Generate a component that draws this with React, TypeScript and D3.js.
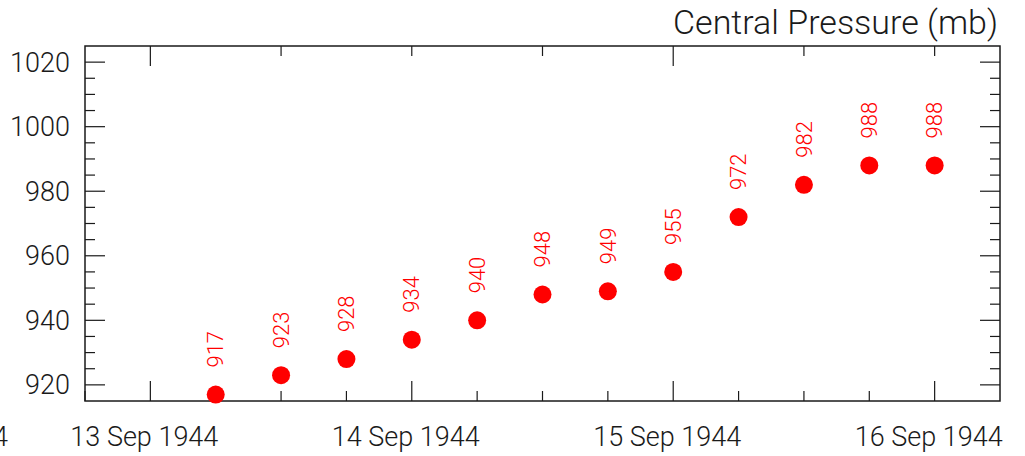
import { useEffect, useRef } from "react";
import * as d3 from "d3";

// observation times (UTC) and central pressure readings
const obsTimes = [
  "1944-09-13T06:00Z",
  "1944-09-13T12:00Z",
  "1944-09-13T18:00Z",
  "1944-09-14T00:00Z",
  "1944-09-14T06:00Z",
  "1944-09-14T12:00Z",
  "1944-09-14T18:00Z",
  "1944-09-15T00:00Z",
  "1944-09-15T06:00Z",
  "1944-09-15T12:00Z",
  "1944-09-15T18:00Z",
  "1944-09-16T00:00Z",
];
const pressures = [917, 923, 928, 934, 940, 948, 949, 955, 972, 982, 988, 988];

const timeDomain = ["1944-09-12T18:00Z", "1944-09-16T06:00Z"];
const pressureDomain = [915, 1025];
const dayTicks = ["1944-09-13T00:00Z", "1944-09-14T00:00Z", "1944-09-15T00:00Z", "1944-09-16T00:00Z"];
const dayLabels = ["13 Sep 1944", "14 Sep 1944", "15 Sep 1944", "16 Sep 1944"];
const cutLabel = "12 Sep 1944";
const title = "Central Pressure (mb)";

const FONT = "Roboto, 'Liberation Sans', Helvetica, Arial, sans-serif";

const App = () => {
  const ref = useRef(null);

  useEffect(() => {
    const width = 1025;
    const height = 456;
    const m = { left: 85, right: 25, top: 46, bottom: 55 };

    const svg = d3.select(ref.current);
    svg.selectAll("*").remove();

    const x = d3
      .scaleUtc()
      .domain(timeDomain.map((d) => new Date(d)))
      .range([m.left, width - m.right]);
    const y = d3
      .scaleLinear()
      .domain(pressureDomain)
      .range([height - m.bottom, m.top]);

    const [x0, x1] = x.range();
    const [y0, y1] = y.range();
    const ink = "#1a1a1a";

    const days = dayTicks.map((d) => new Date(d));
    const sixHours = d3.utcHour.every(6).range(x.domain()[0], x.domain()[1]);
    const twelveHours = d3.utcHour.every(12).range(x.domain()[0], x.domain()[1]);
    const twoDays = days.filter((d, i) => i % 2 === 0);

    const yMajor = d3.range(920, 1021, 20);
    const yMinor = d3.range(920, 1021, 5);

    const g = svg.append("g").attr("stroke", ink).attr("stroke-width", 1.2);

    // bottom ticks: 6h minor, daily major
    g.selectAll(".bmin")
      .data(sixHours)
      .join("line")
      .attr("x1", (d) => x(d))
      .attr("x2", (d) => x(d))
      .attr("y1", y0)
      .attr("y2", (d) => y0 - (days.some((t) => +t === +d) ? 20 : 10));

    // top ticks: 12h minor, two-day major
    g.selectAll(".tmin")
      .data(twelveHours)
      .join("line")
      .attr("x1", (d) => x(d))
      .attr("x2", (d) => x(d))
      .attr("y1", y1)
      .attr("y2", (d) => y1 + (twoDays.some((t) => +t === +d) ? 20 : 10));

    // left and right ticks
    [x0, x1].forEach((edge, side) => {
      const dir = side === 0 ? 1 : -1;
      g.append("g")
        .selectAll("line")
        .data(yMinor)
        .join("line")
        .attr("x1", edge)
        .attr("x2", (d) => edge + dir * (yMajor.includes(d) ? 20 : 10))
        .attr("y1", (d) => y(d))
        .attr("y2", (d) => y(d));
    });

    svg
      .append("rect")
      .attr("x", x0)
      .attr("y", y1)
      .attr("width", x1 - x0)
      .attr("height", y0 - y1)
      .attr("fill", "none")
      .attr("stroke", ink)
      .attr("stroke-width", 1.5);

    const label = (sel, size) =>
      sel
        .style("font-family", FONT)
        .style("font-weight", "300")
        .style("font-size", size)
        .attr("fill", ink);

    // y labels
    svg
      .append("g")
      .selectAll("text")
      .data(yMajor)
      .join("text")
      .attr("x", x0 - 15)
      .attr("y", (d) => y(d))
      .attr("dy", "0.35em")
      .attr("text-anchor", "end")
      .call(label, "27px")
      .text((d) => d);

    // x labels
    svg
      .append("g")
      .selectAll("text")
      .data(days)
      .join("text")
      .attr("x", (d) => x(d) - 6)
      .attr("y", 446)
      .attr("text-anchor", "middle")
      .call(label, "27px")
      .text((d, i) => dayLabels[i]);

    svg
      .append("text")
      .attr("x", 8)
      .attr("y", 446)
      .attr("text-anchor", "end")
      .call(label, "27px")
      .text(cutLabel);

    svg
      .append("text")
      .attr("x", 998)
      .attr("y", 34)
      .attr("text-anchor", "end")
      .call(label, "34px")
      .text(title);

    const pts = obsTimes.map((t, i) => ({ t: new Date(t), p: pressures[i] }));

    svg
      .append("g")
      .selectAll("circle")
      .data(pts)
      .join("circle")
      .attr("cx", (d) => x(d.t))
      .attr("cy", (d) => y(d.p))
      .attr("r", 9)
      .attr("fill", "#ff0000");

    svg
      .append("g")
      .selectAll("text")
      .data(pts)
      .join("text")
      .attr("transform", (d) => `translate(${x(d.t)}, ${y(d.p) - 27}) rotate(-90)`)
      .attr("dy", "0.35em")
      .attr("text-anchor", "start")
      .style("font-family", FONT)
      .style("font-weight", "300")
      .style("font-size", "22px")
      .attr("fill", "#ff0000")
      .text((d) => d.p);
  }, []);

  return (
    <svg
      ref={ref}
      width={1025}
      height={456}
      style={{ position: "absolute", left: 0, top: 0, background: "#fff" }}
    />
  );
};

export default App;
